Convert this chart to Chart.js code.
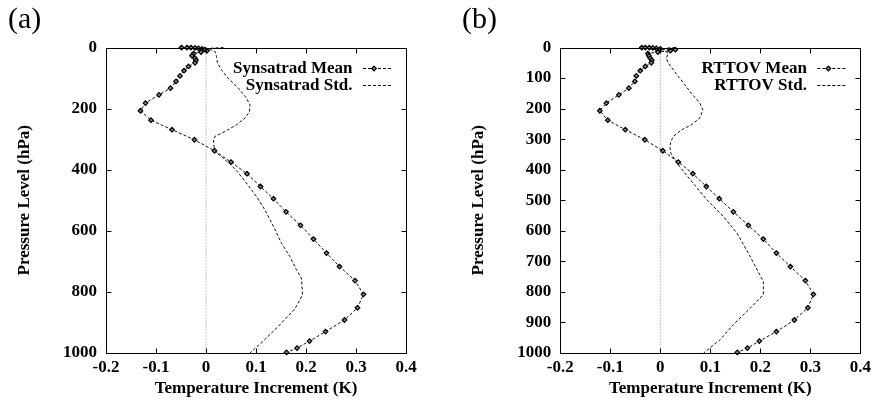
<!DOCTYPE html>
<html>
<head>
<meta charset="utf-8">
<script src="https://cdn.jsdelivr.net/npm/chart.js@4.4.1/dist/chart.umd.min.js"></script>
<style>
body { margin: 0; background: #fff; }
#wrap { position: relative; width: 875px; height: 403px; }
canvas { position: absolute; top: 0; }
</style>
</head>
<body>
<div id="wrap">
<canvas id="chartA" width="437" height="403" style="left:0"></canvas>
<canvas id="chartB" width="438" height="403" style="left:437px"></canvas>
</div>
<script>
// pressure levels (hPa) of the mean profiles
var levels = [0.1, 0.3, 0.7, 1.4, 2.6, 4.4, 7, 10.4, 14.8, 20, 27, 35, 42, 50, 62, 76, 93, 111, 133, 155,
    182, 207, 238, 269, 302, 338, 375, 413, 455, 495, 538, 582, 627, 673, 717, 763, 808, 852, 892, 930,
    961, 984, 998];

var synMean = [-0.049, -0.038, -0.03, -0.022, -0.015, -0.008, -0.002, 0.002, -0.01, -0.025, -0.028, -0.022,
    -0.02, -0.022, -0.035, -0.044, -0.052, -0.06, -0.071, -0.094, -0.121, -0.131, -0.110, -0.068, -0.023,
    0.017, 0.050, 0.082, 0.109, 0.135, 0.160, 0.189, 0.215, 0.241, 0.267, 0.298, 0.315, 0.303, 0.277,
    0.239, 0.207, 0.182, 0.161];

var rtMean = [-0.037, -0.03, -0.022, -0.015, -0.008, 0.0, 0.03, 0.02, -0.005, -0.025, -0.023, -0.02,
    -0.017, -0.018, -0.03, -0.04, -0.048, -0.051, -0.063, -0.083, -0.108, -0.121, -0.105, -0.070, -0.031,
    0.005, 0.036, 0.065, 0.092, 0.118, 0.146, 0.176, 0.206, 0.232, 0.260, 0.290, 0.306, 0.295, 0.268,
    0.232, 0.198, 0.174, 0.154];

// std profiles, traced separately
var synStdP = [0.1, 2, 5, 13, 29, 51, 73, 95, 117, 139, 166, 188, 210, 231, 253, 275, 291, 302, 324, 340,
    384, 411, 444, 488, 532, 586, 641, 685, 728, 755, 810, 855, 912, 965, 1000];
var synStd = [0.035, 0.012, 0.006, 0.018, 0.021, 0.023, 0.031, 0.041, 0.055, 0.068, 0.081, 0.088, 0.087,
    0.078, 0.061, 0.038, 0.018, 0.015, 0.016, 0.018, 0.05, 0.065, 0.081, 0.101, 0.118, 0.135, 0.151,
    0.168, 0.181, 0.191, 0.193, 0.178, 0.145, 0.112, 0.088];

var rtStdP = [0.1, 2, 8, 19, 35, 51, 73, 95, 122, 150, 182, 204, 231, 253, 270, 291, 308, 324, 346, 378,
    433, 498, 553, 607, 673, 766, 809, 853, 907, 956, 1000];
var rtStd = [0.03, 0.012, 0.006, 0.016, 0.012, 0.016, 0.026, 0.036, 0.049, 0.062, 0.079, 0.085, 0.079,
    0.062, 0.042, 0.026, 0.021, 0.019, 0.021, 0.033, 0.06, 0.093, 0.126, 0.153, 0.176, 0.206, 0.206,
    0.18, 0.146, 0.12, 0.0865];

var xTicks = { min: -0.2, max: 0.4, step: 0.1 };
var zeroLine = [0, 0];
var zeroLineP = [0, 1000];

Chart.defaults.font.family = '"Liberation Serif", "Times New Roman", serif';
Chart.defaults.font.size = 17;
Chart.defaults.font.weight = 'bold';
Chart.defaults.color = '#000';

function pairs(xs, ps) {
    return xs.map(function (v, i) { return { x: v, y: ps[i] }; });
}

var framePlugin = {
    id: 'frame',
    afterDatasetsDraw: function (chart, args, opts) {
        var ctx = chart.ctx;
        var a = chart.chartArea;
        var xs = chart.scales.x, ys = chart.scales.y;
        ctx.save();
        ctx.strokeStyle = '#000';
        ctx.lineWidth = 1;
        ctx.setLineDash([]);
        var l = Math.round(a.left) + 0.5, r = Math.round(a.right) + 0.5;
        var t = Math.round(a.top) + 0.5, b = Math.round(a.bottom) + 0.5;
        ctx.strokeRect(l, t, r - l, b - t);
        ctx.beginPath();
        xs.ticks.forEach(function (tk) {
            var px = Math.round(xs.getPixelForValue(tk.value)) + 0.5;
            ctx.moveTo(px, b); ctx.lineTo(px, b - 5);
            ctx.moveTo(px, t); ctx.lineTo(px, t + 5);
        });
        ys.ticks.forEach(function (tk) {
            var py = Math.round(ys.getPixelForValue(tk.value)) + 0.5;
            ctx.moveTo(l, py); ctx.lineTo(l + 5, py);
            ctx.moveTo(r, py); ctx.lineTo(r - 5, py);
        });
        ctx.stroke();

        // panel letter
        ctx.font = '30px "Liberation Serif", serif';
        ctx.fillStyle = '#000';
        ctx.textBaseline = 'middle';
        ctx.textAlign = 'left';
        ctx.fillText(opts.letter, opts.letterX, 20);

        // key, gnuplot style: text on the left, sample on the right
        ctx.font = 'bold 17px "Liberation Serif", serif';
        ctx.textAlign = 'right';
        var row = 0;
        chart.data.datasets.forEach(function (ds) {
            if (!ds.label) return;
            var y = Math.round(a.top + 20.6 + row * 16.7) + 0.5;
            ctx.fillText(ds.label, a.right - 53.5, y);
            ctx.setLineDash(ds.borderDash || []);
            ctx.beginPath();
            ctx.moveTo(a.right - 43, y);
            ctx.lineTo(a.right - 13, y);
            ctx.stroke();
            ctx.setLineDash([]);
            if (ds.pointRadius > 0) {
                var mx = a.right - 32, rr = ds.pointRadius;
                ctx.beginPath();
                ctx.moveTo(mx, y - rr); ctx.lineTo(mx + rr, y);
                ctx.lineTo(mx, y + rr); ctx.lineTo(mx - rr, y);
                ctx.closePath();
                ctx.fillStyle = ds.pointBackgroundColor;
                ctx.fill();
                ctx.lineWidth = ds.pointBorderWidth;
                ctx.strokeStyle = ds.pointBorderColor;
                ctx.stroke();
                ctx.lineWidth = 1;
                ctx.strokeStyle = '#000';
                ctx.fillStyle = '#000';
            }
            row++;
        });
        ctx.restore();
    }
};

function makeChart(id, letter, letterX, padLeft, padRight, meanLabel, meanData, stdLabel, stdData, stdP, yStep) {
    var ctx = document.getElementById(id).getContext('2d');
    return new Chart(ctx, {
        type: 'scatter',
        data: {
            datasets: [{
                label: meanLabel,
                data: pairs(meanData, levels),
                showLine: true,
                borderColor: '#111',
                borderWidth: 1,
                borderDash: [3, 2],
                pointStyle: 'rectRot',
                pointRadius: 2.3,
                pointBorderWidth: 1.2,
                pointBorderColor: '#000',
                pointBackgroundColor: '#888',
                tension: 0,
                clip: false
            }, {
                label: stdLabel,
                data: pairs(stdData, stdP),
                showLine: true,
                borderColor: '#111',
                borderWidth: 1,
                borderDash: [3, 2],
                pointRadius: 0,
                tension: 0,
                clip: false
            }, {
                label: '',
                data: pairs(zeroLine, zeroLineP),
                showLine: true,
                borderColor: '#888',
                borderWidth: 1,
                borderDash: [1, 2],
                pointRadius: 0
            }]
        },
        options: {
            responsive: false,
            animation: false,
            devicePixelRatio: 1,
            layout: { padding: { top: 47.5, left: padLeft, right: padRight, bottom: 0 } },
            plugins: {
                legend: { display: false },
                tooltip: { enabled: false },
                frame: { letter: letter, letterX: letterX }
            },
            scales: {
                x: {
                    type: 'linear',
                    min: xTicks.min,
                    max: xTicks.max,
                    grid: { display: false, drawTicks: false },
                    border: { display: false },
                    ticks: {
                        stepSize: xTicks.step,
                        padding: 4,
                        callback: function (v) { return Number(v.toFixed(1)).toString(); }
                    },
                    title: {
                        display: true,
                        text: 'Temperature Increment (K)',
                        padding: { top: 0, bottom: 4 }
                    },
                    afterFit: function (s) { s.height = 50; }
                },
                y: {
                    type: 'linear',
                    reverse: true,
                    min: 0,
                    max: 1000,
                    grid: { display: false, drawTicks: false },
                    border: { display: false },
                    ticks: {
                        stepSize: yStep,
                        padding: 9,
                        callback: function (v) { return String(v); }
                    },
                    title: {
                        display: true,
                        text: 'Pressure Level (hPa)',
                        padding: { top: 14, bottom: 0 }
                    },
                    afterFit: function (s) { s.width = 106; }
                }
            }
        },
        plugins: [framePlugin]
    });
}

makeChart('chartA', '(a)', 8, 0, 31, 'Synsatrad Mean', synMean, 'Synsatrad Std.', synStd, synStdP, 200);
makeChart('chartB', '(b)', 25, 17.3, 14, 'RTTOV Mean', rtMean, 'RTTOV Std.', rtStd, rtStdP, 100);
</script>
</body>
</html>
